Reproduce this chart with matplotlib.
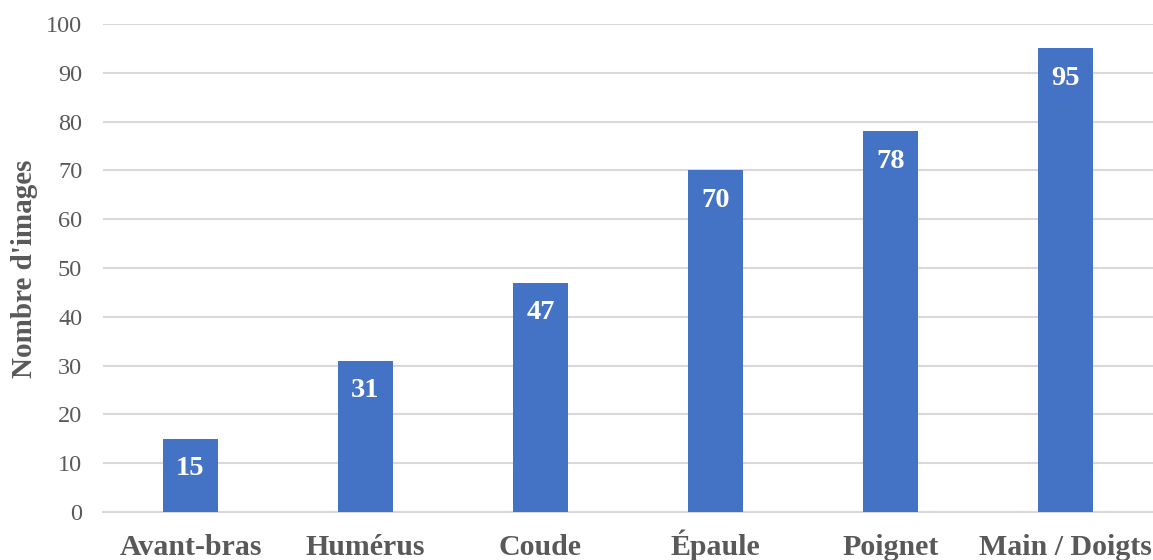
import matplotlib
matplotlib.use("Agg")
import matplotlib.pyplot as plt

categories = ["Avant-bras", "Humérus", "Coude", "Épaule", "Poignet", "Main / Doigts"]
counts = [15, 31, 47, 70, 78, 95]
yticks = [0, 10, 20, 30, 40, 50, 60, 70, 80, 90, 100]

plt.rcParams["font.family"] = ["Liberation Serif", "DejaVu Serif"]

W, H, DPI = 1153, 560, 100
fig = plt.figure(figsize=(W / DPI, H / DPI), dpi=DPI)
ax = fig.add_axes([103 / W, 48 / H, 1 - 103 / W, (512 - 24) / H])

bar_color = "#4472C4"
text_gray = "#595959"
grid_gray = "#D9D9D9"

x = list(range(len(categories)))
bars = ax.bar(x, counts, width=0.314, color=bar_color, zorder=3)

ax.set_xlim(-0.5, len(categories) - 0.5)
ax.set_ylim(0, 100)
ax.set_yticks(yticks)
ax.set_yticklabels([str(v) for v in yticks], fontsize=17.5, color=text_gray)
ax.set_xticks(x)
ax.set_xticklabels(categories, fontsize=21.5, fontweight="bold", color=text_gray,
                   va="baseline")

ax.yaxis.grid(True, color=grid_gray, linewidth=1.5, zorder=0)
ax.set_axisbelow(True)
for side in ["top", "right", "left"]:
    ax.spines[side].set_visible(False)
ax.spines["bottom"].set_color(grid_gray)
ax.spines["bottom"].set_linewidth(1.5)
ax.tick_params(axis="both", length=0)
ax.tick_params(axis="y", pad=15)
ax.tick_params(axis="x", pad=31)

fig.text(25 / W, 1 - 269 / H, "Nombre d'images", rotation=90, fontsize=21,
         fontweight="bold", color=text_gray, ha="center", va="center")

for rect, v in zip(bars, counts):
    ax.annotate(str(v), xy=(rect.get_x() + rect.get_width() / 2, v),
                xytext=(0, -30), textcoords="offset pixels",
                ha="center", va="center", fontsize=20.5, fontweight="bold",
                color="white", zorder=4)

fig.savefig("out.png", dpi=DPI, facecolor="white")
